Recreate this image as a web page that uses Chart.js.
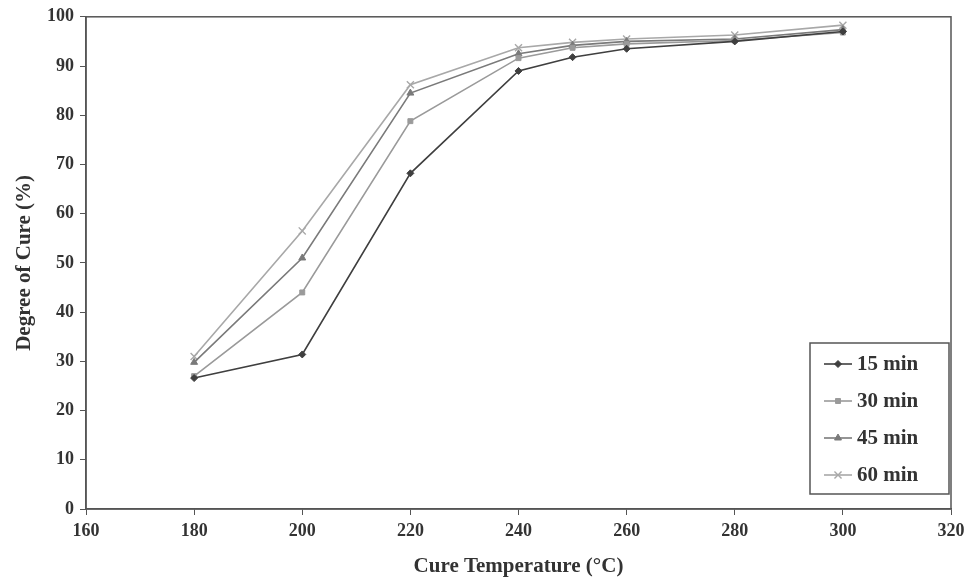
<!DOCTYPE html>
<html lang="en">
<head>
    <meta charset="UTF-8">
    <title>Degree of Cure vs Cure Temperature</title>
    <style>
        html, body {
            margin: 0;
            padding: 0;
            background-color: #ffffff;
        }
        #wrap {
            width: 976px;
            height: 584px;
        }
    </style>
</head>
<body>
    <div id="wrap">
        <canvas id="cureChart" width="976" height="584"></canvas>
    </div>
    <script src="https://cdn.jsdelivr.net/npm/chart.js@4/dist/chart.umd.min.js"></script>
    <script>
        // cure temperatures (°C)
        const temps = [180, 200, 220, 240, 250, 260, 280, 300];
        // degree of cure (%) for each cure time
        const cure15 = [26.6, 31.4, 68.2, 89.0, 91.8, 93.5, 95.0, 97.0];
        const cure30 = [27.0, 44.0, 78.8, 91.6, 93.7, 94.5, 95.2, 96.8];
        const cure45 = [29.8, 51.0, 84.5, 92.5, 94.2, 95.0, 95.5, 97.4];
        const cure60 = [31.0, 56.5, 86.2, 93.7, 94.8, 95.5, 96.3, 98.3];
        const seriesLabels = ['15 min', '30 min', '45 min', '60 min'];
        const xTicks = [160, 320, 20];
        const yTicks = [0, 100, 10];

        const serif = "'Liberation Serif', 'DejaVu Serif', serif";
        const textColor = '#333333';
        const axisColor = '#555555';

        function pts(vals) {
            return temps.map((t, i) => ({ x: t, y: vals[i] }));
        }

        function series(label, vals, color, style, radius) {
            return {
                label: label,
                data: pts(vals),
                borderColor: color,
                backgroundColor: color,
                borderWidth: 1.6,
                pointStyle: style,
                pointRadius: radius,
                pointBorderWidth: style === 'crossRot' ? 1.4 : 1,
                pointBorderColor: color,
                pointBackgroundColor: color,
                tension: 0,
                fill: false
            };
        }

        // full frame around the plot area
        const frame = {
            id: 'frame',
            afterDraw(chart) {
                const a = chart.chartArea;
                const ctx = chart.ctx;
                ctx.save();
                ctx.strokeStyle = axisColor;
                ctx.lineWidth = 1.5;
                ctx.strokeRect(a.left, a.top, a.right - a.left, a.bottom - a.top);
                ctx.restore();
            }
        };

        // boxed legend inside the lower right corner
        const boxLegend = {
            id: 'boxLegend',
            afterDraw(chart) {
                const a = chart.chartArea;
                const ctx = chart.ctx;
                const w = 139, h = 151;
                const x0 = a.right - 2 - w;
                const y0 = a.bottom - 15 - h;
                ctx.save();
                ctx.fillStyle = '#ffffff';
                ctx.fillRect(x0, y0, w, h);
                ctx.strokeStyle = axisColor;
                ctx.lineWidth = 1.5;
                ctx.strokeRect(x0, y0, w, h);
                chart.data.datasets.forEach((ds, i) => {
                    const y = y0 + 21 + i * 37;
                    ctx.strokeStyle = ds.borderColor;
                    ctx.lineWidth = 1.6;
                    ctx.beginPath();
                    ctx.moveTo(x0 + 14, y);
                    ctx.lineTo(x0 + 42, y);
                    ctx.stroke();
                    ctx.fillStyle = ds.borderColor;
                    ctx.strokeStyle = ds.borderColor;
                    ctx.lineWidth = ds.pointBorderWidth;
                    Chart.helpers.drawPoint(ctx, {
                        pointStyle: ds.pointStyle,
                        radius: ds.pointRadius,
                        rotation: 0,
                        borderWidth: ds.pointBorderWidth
                    }, x0 + 28, y);
                    ctx.fillStyle = textColor;
                    ctx.font = 'bold 21px ' + serif;
                    ctx.textAlign = 'left';
                    ctx.textBaseline = 'middle';
                    ctx.fillText(ds.label, x0 + 47, y + 1);
                });
                ctx.restore();
            }
        };

        const ctx = document.getElementById('cureChart').getContext('2d');
        new Chart(ctx, {
            type: 'line',
            data: {
                datasets: [
                    series(seriesLabels[0], cure15, '#3f3f3f', 'rectRot', 3.5),
                    series(seriesLabels[1], cure30, '#9a9a9a', 'rect', 3.5),
                    series(seriesLabels[2], cure45, '#7a7a7a', 'triangle', 4),
                    series(seriesLabels[3], cure60, '#a8a8a8', 'crossRot', 5)
                ]
            },
            options: {
                responsive: false,
                animation: false,
                layout: {
                    padding: { left: 12, right: 25, top: 15, bottom: 5 }
                },
                plugins: {
                    legend: { display: false },
                    tooltip: { enabled: false }
                },
                scales: {
                    x: {
                        type: 'linear',
                        min: xTicks[0],
                        max: xTicks[1],
                        afterFit(scale) { scale.height = 70; },
                        ticks: {
                            stepSize: xTicks[2],
                            color: textColor,
                            font: { family: serif, size: 18, weight: 'bold' },
                            padding: 6,
                            maxRotation: 0
                        },
                        grid: {
                            display: true,
                            drawOnChartArea: false,
                            drawTicks: true,
                            tickLength: 6,
                            color: axisColor
                        },
                        border: { display: true, color: axisColor, width: 1.5 },
                        title: {
                            display: true,
                            text: 'Cure Temperature (°C)',
                            color: textColor,
                            font: { family: serif, size: 21, weight: 'bold' },
                            padding: { top: 2, bottom: 0 }
                        }
                    },
                    y: {
                        type: 'linear',
                        min: yTicks[0],
                        max: yTicks[1],
                        afterFit(scale) { scale.width = 74; },
                        ticks: {
                            stepSize: yTicks[2],
                            color: textColor,
                            font: { family: serif, size: 18, weight: 'bold' },
                            padding: 6
                        },
                        grid: {
                            display: true,
                            drawOnChartArea: false,
                            drawTicks: true,
                            tickLength: 6,
                            color: axisColor
                        },
                        border: { display: true, color: axisColor, width: 1.5 },
                        title: {
                            display: true,
                            text: 'Degree of Cure (%)',
                            color: textColor,
                            font: { family: serif, size: 21, weight: 'bold' },
                            padding: { top: 0, bottom: 4 }
                        }
                    }
                }
            },
            plugins: [frame, boxLegend]
        });
    </script>
</body>
</html>
